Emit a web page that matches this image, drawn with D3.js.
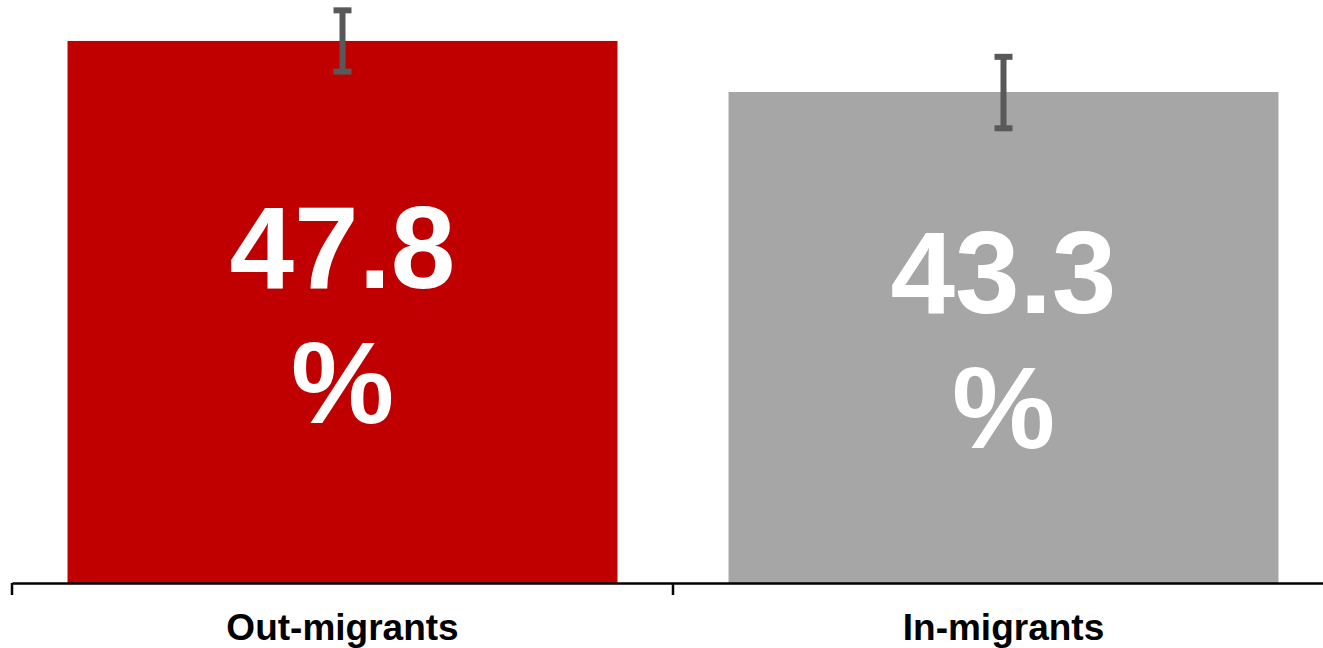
<!DOCTYPE html>
<html>
<head>
<meta charset="utf-8">
<script src="https://cdn.jsdelivr.net/npm/d3@7"></script>
<style>
  body { margin: 0; background: #fff; }
  svg { display: block; font-family: "Liberation Sans", Arial, sans-serif; }
</style>
</head>
<body>
<div id="chart"></div>
<script>
// data
var categories = ["Out-migrants", "In-migrants"];
var values = [47.8, 43.3];
var errLow = [45.1, 40.1];
var errHigh = [50.5, 46.4];
var barColors = ["#C00000", "#A6A6A6"];

var width = 1323,
  height = 648,
  baseY = 583;

var svg = d3.select("#chart").append("svg")
  .attr("width", width)
  .attr("height", height);

var x = d3.scaleBand()
  .domain(categories)
  .range([12, 1334])
  .padding(0);

var y = d3.scaleLinear()
  .domain([0, 50])
  .range([baseY, baseY - 50 * 11.34]);

var barW = x.bandwidth() * 0.832;

svg.selectAll(".bar")
  .data(categories)
  .enter().append("rect")
  .attr("class", "bar")
  .attr("x", function (d) { return x(d) + (x.bandwidth() - barW) / 2; })
  .attr("width", barW)
  .attr("y", function (d, i) { return y(values[i]); })
  .attr("height", function (d, i) { return baseY - y(values[i]); })
  .attr("fill", function (d, i) { return barColors[i]; });

// value labels, wrapped on two lines
var labels = svg.selectAll(".val")
  .data(categories)
  .enter().append("text")
  .attr("class", "val")
  .attr("text-anchor", "middle")
  .attr("fill", "#fff")
  .style("font-size", "116px")
  .style("font-weight", "bold");

labels.each(function (d, i) {
  var cx = x(d) + x.bandwidth() / 2;
  var mid = (y(values[i]) + baseY) / 2;
  var t = d3.select(this);
  t.append("tspan").attr("x", cx).attr("y", mid - 24).text(values[i].toFixed(1));
  t.append("tspan").attr("x", cx).attr("y", mid + 111).text("%");
});

// error bars
var err = svg.selectAll(".err")
  .data(categories)
  .enter().append("g")
  .attr("class", "err")
  .attr("stroke", "#595959")
  .attr("stroke-width", 6);

err.append("line")
  .attr("x1", function (d) { return x(d) + x.bandwidth() / 2; })
  .attr("x2", function (d) { return x(d) + x.bandwidth() / 2; })
  .attr("y1", function (d, i) { return y(errHigh[i]); })
  .attr("y2", function (d, i) { return y(errLow[i]); });

[errHigh, errLow].forEach(function (arr) {
  err.append("line")
    .attr("x1", function (d) { return x(d) + x.bandwidth() / 2 - 9; })
    .attr("x2", function (d) { return x(d) + x.bandwidth() / 2 + 9; })
    .attr("y1", function (d, i) { return y(arr[i]); })
    .attr("y2", function (d, i) { return y(arr[i]); });
});

// x axis
var axis = svg.append("g")
  .attr("transform", "translate(0," + baseY + ")")
  .call(d3.axisBottom(x).tickSize(0).tickPadding(31).tickSizeOuter(0));

axis.select(".domain")
  .attr("stroke", "#000")
  .attr("stroke-width", 2.5);

axis.selectAll(".tick text")
  .attr("fill", "#000")
  .style("font-size", "37px")
  .style("font-weight", "bold")
  .style("font-family", "'Liberation Sans', Arial, sans-serif");

// boundary ticks between categories
axis.selectAll(".sep")
  .data(categories)
  .enter().append("line")
  .attr("class", "sep")
  .attr("x1", function (d) { return x(d); })
  .attr("x2", function (d) { return x(d); })
  .attr("y1", 0)
  .attr("y2", 12)
  .attr("stroke", "#000")
  .attr("stroke-width", 2.5);
</script>
</body>
</html>
